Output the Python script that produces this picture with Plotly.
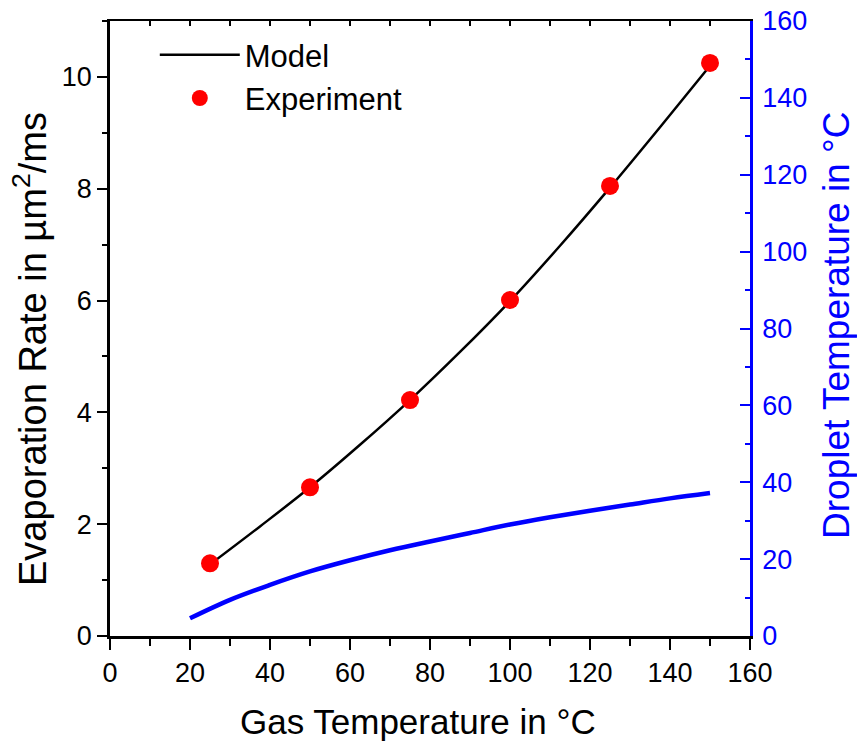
import plotly.graph_objects as go

# Data
model_x = [25, 37.5, 50, 62.5, 75, 87.5, 100, 112.5, 125, 137.5, 150]
model_rate = [1.28, 1.96, 2.66, 3.42, 4.22, 5.08, 5.99, 6.98, 8.02, 9.10, 10.20]

exp_x = [25, 50, 75, 100, 125, 150]
exp_rate = [1.30, 2.66, 4.22, 6.01, 8.05, 10.25]

drop_x = [20, 30, 40, 50, 60, 70, 80, 90, 100, 110, 120, 130, 140, 150]
drop_temp = [4.6, 9.4, 13.3, 16.8, 19.7, 22.3, 24.6, 26.8, 29.0, 30.9, 32.6, 34.2, 35.8, 37.2]

x_ticks = [0, 20, 40, 60, 80, 100, 120, 140, 160]
left_ticks = [0, 2, 4, 6, 8, 10]
right_ticks = [0, 20, 40, 60, 80, 100, 120, 140, 160]

x_title = "Gas Temperature in °C"
left_title = "Evaporation Rate in µm<sup>2</sup>/ms"
right_title = "Droplet Temperature in °C"

FONT = "Liberation Sans, Arial, sans-serif"
BLUE = "#0000FF"

fig = go.Figure()

fig.add_trace(go.Scatter(
    x=model_x, y=model_rate, mode="lines", name="Model",
    line=dict(color="black", width=2.5, shape="spline"),
))
fig.add_trace(go.Scatter(
    x=exp_x, y=exp_rate, mode="markers", name="Experiment",
    marker=dict(color="#FF0000", size=18, line=dict(width=0)),
))
fig.add_trace(go.Scatter(
    x=drop_x, y=drop_temp, mode="lines", name="Droplet", showlegend=False,
    line=dict(color=BLUE, width=4.5, shape="spline"), yaxis="y2",
))
# invisible helper trace so the top mirror axis is drawn
fig.add_trace(go.Scatter(
    x=model_x, y=model_rate, mode="lines", xaxis="x2", showlegend=False,
    hoverinfo="skip", opacity=0, line=dict(width=0),
))

fig.update_layout(
    width=857, height=746,
    margin=dict(l=110, r=107, t=21, b=110),
    paper_bgcolor="white", plot_bgcolor="white",
    font=dict(family=FONT, color="black", size=27),
    showlegend=True,
    legend=dict(
        x=0.07, y=0.9885, xanchor="left", yanchor="top",
        bgcolor="rgba(0,0,0,0)", font=dict(family=FONT, size=31, color="black"),
        itemwidth=80, tracegroupgap=0,
    ),
    xaxis=dict(
        range=[0, 160], tickvals=x_ticks, ticks="outside", ticklen=11, tickwidth=2,
        tickcolor="black", showline=True, linewidth=2.5, linecolor="black",
        showgrid=False, zeroline=False, automargin=False, ticklabeloverflow="allow",
        tickfont=dict(family=FONT, size=27, color="black"),
        minor=dict(dtick=10, ticks="outside", ticklen=7, tickwidth=2, tickcolor="black"),
    ),
    xaxis2=dict(
        range=[0, 160], overlaying="x", side="top", anchor="y",
        dtick=10, ticks="inside", ticklen=5, tickwidth=2, tickcolor="black",
        showticklabels=False, showline=True, linewidth=2, linecolor="black",
        showgrid=False, zeroline=False, automargin=False,
    ),
    yaxis=dict(
        range=[0, 11], tickvals=left_ticks, ticks="outside", ticklen=10, tickwidth=2,
        tickcolor="black", showline=True, linewidth=2.5, linecolor="black",
        showgrid=False, zeroline=False, automargin=False, ticklabeloverflow="allow",
        tickfont=dict(family=FONT, size=27, color="black"),
        minor=dict(dtick=1, ticks="outside", ticklen=5, tickwidth=2, tickcolor="black"),
    ),
    yaxis2=dict(
        range=[0, 160], tickvals=right_ticks, overlaying="y", side="right", anchor="x",
        ticks="inside", ticklen=10, tickwidth=2, tickcolor=BLUE,
        showline=True, linewidth=2.5, linecolor=BLUE, showgrid=False, zeroline=False,
        automargin=False, ticklabelstandoff=4, ticklabeloverflow="allow",
        tickfont=dict(family=FONT, size=27, color=BLUE),
        minor=dict(dtick=10, ticks="inside", ticklen=5, tickwidth=2, tickcolor=BLUE),
    ),
    annotations=[
        dict(text=x_title, xref="paper", yref="paper", x=0.481, y=-0.1398,
             xanchor="center", yanchor="middle", showarrow=False,
             font=dict(family=FONT, size=35, color="black")),
        dict(text=left_title, xref="paper", yref="paper", x=-0.1250, y=0.4667,
             xanchor="center", yanchor="middle", showarrow=False, textangle=-90,
             font=dict(family=FONT, size=38, color="black")),
        dict(text=right_title, xref="paper", yref="paper", x=1.1359, y=0.5057,
             xanchor="center", yanchor="middle", showarrow=False, textangle=-90,
             font=dict(family=FONT, size=37, color=BLUE)),
    ],
)

fig.write_html(
    "out.html",
    config={"displayModeBar": False},
    post_script="document.body.style.margin='0px';",
)
